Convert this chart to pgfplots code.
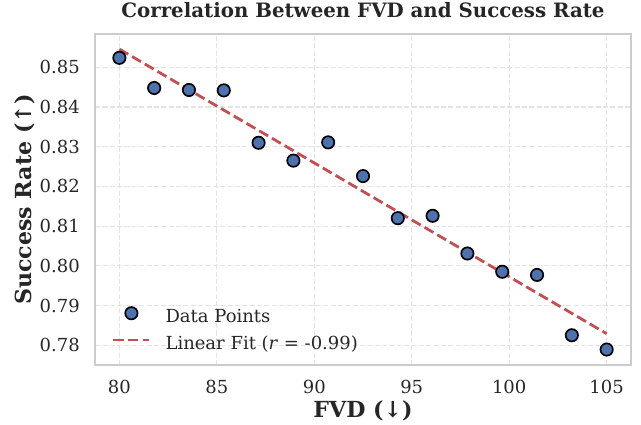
\documentclass[border=0pt]{standalone}
\usepackage{fontspec}
\setmainfont{DejaVu Serif}
\usepackage{pgfplots}
\pgfplotsset{compat=1.18}
\definecolor{sbblue}{HTML}{4C72B0}
\definecolor{sbred}{HTML}{C44E52}
\definecolor{txt}{HTML}{262626}
\definecolor{spine}{HTML}{CCCCCC}
\definecolor{gridc}{HTML}{E3E3E3}
\pgfplotsset{
    scatleg/.style={legend image code/.code={\path[##1] plot coordinates {(13bp,0.35em)};}},
    lineleg/.style={legend image code/.code={\draw[##1] (0bp,0.35em) -- (26bp,0.35em);}},
}

\begin{document}
\begin{tikzpicture}
\useasboundingbox (-68.4bp,-42.5bp) rectangle (393.1bp,262.8bp);
\begin{axis}[
    at={(0,0)}, anchor=south west,
    scale only axis, width=385.9bp, height=238.3bp,
    xmin=78.75, xmax=106.25, ymin=0.7750, ymax=0.8584,
    xtick={80,85,...,105},
    ytick={0.78,0.79,...,0.851},
    yticklabel style={/pgf/number format/fixed, /pgf/number format/fixed zerofill,
        /pgf/number format/precision=2},
    /pgf/number format/assume math mode=true,
    major tick length=0pt,
    tick label style={font=\fontsize{13}{15}\selectfont, text=txt, inner sep=0pt},
    xticklabel style={anchor=north, yshift=-10.8bp},
    yticklabel style={anchor=east, xshift=-10.8bp},
    axis line style={spine, line width=1.25bp},
    grid=major,
    grid style={gridc, line width=0.8bp, dash pattern=on 3.7bp off 1.6bp},
    title={Correlation Between FVD and Success Rate},
    title style={font=\fontsize{14.3}{16}\selectfont\bfseries, text=txt,
        at={(axis description cs:0.5,1)}, anchor=center, yshift=11.5bp},
    xlabel={FVD (↓)},
    ylabel={Success Rate (↑)},
    label style={font=\fontsize{16}{18}\selectfont\bfseries, text=txt},
    xlabel style={at={(axis description cs:0.5,0)}, anchor=center, yshift=-33.1bp},
    ylabel style={at={(axis description cs:-0.1317,0.5)}, anchor=center},
    legend cell align=left,
    legend style={draw=none, fill=none, at={(axis description cs:0,0)},
        anchor=south west, xshift=12bp, yshift=8bp, inner sep=0pt,
        font=\fontsize{13}{15}\selectfont, text=txt,
        row sep=6.4bp, column sep=0pt,
        nodes={inner sep=0pt, text height=9.5bp, text depth=3.3bp}},
    /tikz/every odd column/.append style={column sep=10.6bp},
]
\addplot[only marks, mark=*, mark size=4.45bp,
    mark options={fill=sbblue, draw=black, line width=1.2bp}, scatleg]
coordinates {
    (80.000,0.8524) (81.786,0.8448) (83.571,0.8443) (85.357,0.8442)
    (87.143,0.8310) (88.929,0.8265) (90.714,0.8311) (92.500,0.8226)
    (94.286,0.8120) (96.071,0.8126) (97.857,0.8031) (99.643,0.7985)
    (101.429,0.7977) (103.214,0.7825) (105.000,0.7789)
};
\addlegendentry{Data Points}
\addplot[sbred, line width=2bp, dash pattern=on 7.4bp off 3.2bp, lineleg]
coordinates {(80,0.8546) (105,0.7829)};
\addlegendentry{Linear Fit (\textit{r} = -0.99)}
\end{axis}
\end{tikzpicture}
\end{document}
